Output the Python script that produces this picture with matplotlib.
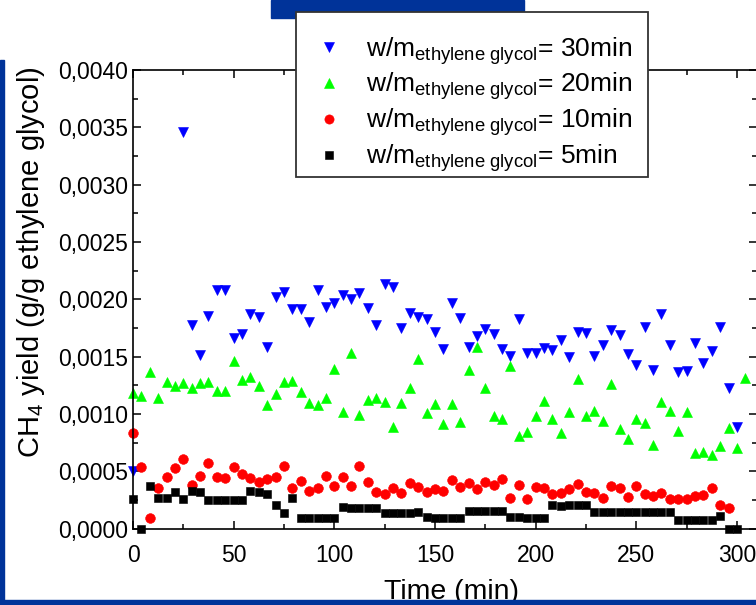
import numpy as np
import matplotlib
matplotlib.use('Agg')
import matplotlib.pyplot as plt
from matplotlib.patches import Rectangle
from matplotlib.ticker import MultipleLocator, FuncFormatter

plt.rcParams['font.family'] = ['Liberation Sans', 'DejaVu Sans']
plt.rcParams['mathtext.fontset'] = 'custom'
plt.rcParams['mathtext.rm'] = 'Liberation Sans'
plt.rcParams['mathtext.it'] = 'Liberation Sans:italic'
plt.rcParams['mathtext.bf'] = 'Liberation Sans:bold'

# ---------------- data (yield values in units of 1e-3 g/g) ----------------
time_min = [0, 4.2, 8.3, 12.5, 16.7, 20.8, 25.0, 29.2, 33.3, 37.5,
            41.7, 45.8, 50.0, 54.2, 58.3, 62.5, 66.7, 70.8, 75.0, 79.2,
            83.3, 87.5, 91.7, 95.8, 100.0, 104.2, 108.3, 112.5, 116.7, 120.8,
            125.0, 129.2, 133.3, 137.5, 141.7, 145.8, 150.0, 154.2, 158.3, 162.5,
            166.7, 170.8, 175.0, 179.2, 183.3, 187.5, 191.7, 195.8, 200.0, 204.2,
            208.3, 212.5, 216.7, 220.8, 225.0, 229.2, 233.3, 237.5, 241.7, 245.8,
            250.0, 254.2, 258.3, 262.5, 266.7, 270.8, 275.0, 279.2, 283.3, 287.5,
            291.7, 295.8, 300.0, 304.2]

nan = float('nan')
yield_30min = [0.503, nan, nan, nan, nan, nan, 3.456, 1.777, 1.515, 1.856,
               2.083, 2.083, 1.667, 1.699, 1.870, 1.850, 1.582, 2.024, 2.068, 1.914,
               1.914, 1.806, 2.083, 1.937, 1.966, 2.039, 2.001, 2.053, 1.928, 1.777,
               2.135, 2.106, 1.748, 1.885, 1.850, 1.830, 1.719, 1.571, 1.966, 1.841,
               1.588, 1.684, 1.745, 1.699, 1.565, 1.507, 1.830, 1.530, 1.530, 1.574,
               1.559, 1.646, 1.501, 1.719, 1.710, 1.507, 1.603, 1.734, 1.687, 1.521,
               1.428, 1.757, 1.385, 1.873, 1.603, 1.370, 1.379, 1.623, 1.443, 1.550,
               1.757, 1.229, 0.890]

yield_20min = [1.181, 1.160, 1.370, 1.143, 1.283, 1.248, 1.274, 1.227, 1.268, 1.280,
               1.198, 1.198, 1.460, 1.294, 1.320, 1.245, 1.076, 1.172, 1.280, 1.289,
               1.193, 1.094, 1.076, 1.137, 1.390, 1.015, 1.536, 0.995, 1.123, 1.137,
               1.105, 0.890, 1.094, 1.225, 1.478, 1.012, 1.084, 0.912, 1.085, 0.934,
               1.385, 1.588, 1.225, 0.986, 0.954, 1.419, 0.809, 0.841, 0.986, 1.114,
               0.957, 0.832, 1.021, 1.303, 0.983, 1.024, 0.937, 1.259, 0.867, 0.786,
               0.954, 0.919, 0.730, 1.108, 1.030, 0.855, 1.018, 0.663, 0.672, 0.643,
               0.724, 0.878, 0.701, 1.310]

yield_10min = [0.832, 0.535, 0.096, 0.352, 0.448, 0.527, 0.611, 0.381, 0.463, 0.576,
               0.448, 0.440, 0.535, 0.477, 0.445, 0.404, 0.431, 0.448, 0.547, 0.352,
               0.419, 0.332, 0.352, 0.460, 0.373, 0.454, 0.373, 0.547, 0.404, 0.317,
               0.300, 0.352, 0.314, 0.401, 0.361, 0.317, 0.346, 0.332, 0.425, 0.367,
               0.396, 0.346, 0.404, 0.381, 0.431, 0.271, 0.378, 0.256, 0.367, 0.352,
               0.303, 0.309, 0.349, 0.390, 0.323, 0.309, 0.271, 0.370, 0.352, 0.273,
               0.370, 0.303, 0.288, 0.309, 0.256, 0.256, 0.262, 0.285, 0.294, 0.352,
               0.210, 0.178]

yield_5min = [0.262, 0.000, 0.375, 0.265, 0.270, 0.317, 0.256, 0.329, 0.323, 0.250,
              0.250, 0.250, 0.250, 0.250, 0.332, 0.317, 0.300, 0.204, 0.134, 0.268,
              0.093, 0.093, 0.093, 0.093, 0.093, 0.190, 0.183, 0.183, 0.183, 0.183,
              0.134, 0.134, 0.134, 0.134, 0.142, 0.099, 0.097, 0.095, 0.095, 0.095,
              0.153, 0.153, 0.153, 0.153, 0.153, 0.099, 0.099, 0.095, 0.095, 0.095,
              0.207, 0.202, 0.207, 0.207, 0.207, 0.149, 0.149, 0.149, 0.149, 0.142,
              0.142, 0.142, 0.142, 0.142, 0.142, 0.076, 0.076, 0.076, 0.076, 0.076,
              0.111, 0.000, 0.000]

series = [
    ('30min', yield_30min, 'v', '#0000ff'),
    ('20min', yield_20min, '^', '#00ff00'),
    ('10min', yield_10min, 'o', '#ff0000'),
    ('5min', yield_5min, 's', '#000000'),
]
marker_sizes = {'v': 7.2, '^': 7.2, 'o': 7.0, 's': 6.4}

# ---------------- figure ----------------
W, H = 756, 605
fig = plt.figure(figsize=(W / 100, H / 100), dpi=100)
x0, x1 = 133, 757.1
y0, y1 = 528.7, 70.0
ax = fig.add_axes([x0 / W, 1 - y0 / H, (x1 - x0) / W, (y0 - y1) / H])

for label, vals, mk, col in series:
    v = np.array(vals, dtype=float) * 1e-3
    t = np.array(time_min[:len(vals)])
    ax.plot(t, v, linestyle='none', marker=mk, ms=marker_sizes[mk],
            color=col, mec=col, mew=0.4, clip_on=False,
            label=r'w/m$_{\mathrm{ethylene\ glycol}}$= ' + label)

ax.set_xlim(0, 310)
ax.set_ylim(0, 0.004)
ax.xaxis.set_major_locator(MultipleLocator(50))
ax.xaxis.set_minor_locator(MultipleLocator(25))
ax.yaxis.set_major_locator(MultipleLocator(0.0005))
ax.yaxis.set_minor_locator(MultipleLocator(0.00025))
ax.yaxis.set_major_formatter(FuncFormatter(lambda v, p: f'{v:.4f}'.replace('.', ',')))
ax.xaxis.set_major_formatter(FuncFormatter(lambda v, p: f'{v:.0f}'))

for s in ax.spines.values():
    s.set_linewidth(1.2)
ax.tick_params(which='both', direction='in', top=True, right=True, width=1.1,
               labelsize=16.5, colors='black')
ax.tick_params(which='major', length=5.8)
ax.tick_params(which='minor', length=3.6)
ax.tick_params(axis='x', which='major', pad=11.0)
ax.tick_params(axis='y', which='major', pad=3.6)

ax.set_xlabel('Time (min)', fontsize=20.5)
ax.xaxis.set_label_coords((451 - x0) / (x1 - x0), -(579 - y0) / (y0 - y1))
ax.set_ylabel(r'CH$_{\mathrm{4}}$ yield (g/g ethylene glycol)', fontsize=21)
ax.yaxis.set_label_coords(-(x0 - 47) / (x1 - x0), (y0 - 262.5) / (y0 - y1))

# legend frame (drawn separately) and legend entries
frame = Rectangle((296 / W, 1 - 177 / H), (648 - 296) / W, (177 - 12) / H,
                  transform=fig.transFigure, facecolor='white',
                  edgecolor='#333333', linewidth=1.3, zorder=9)
fig.patches.append(frame)
leg = fig.legend(loc='upper left', bbox_to_anchor=(296 / W, 1 - 19 / H),
                 bbox_transform=fig.transFigure, borderaxespad=0,
                 fontsize=19, frameon=False, borderpad=0.6, labelspacing=0.16,
                 handlelength=1.3, handletextpad=0.75, markerscale=0.95)
leg.set_zorder(10)

# blue frame decorations
blue = '#003399'
fig.patches.append(Rectangle((271 / W, 1 - 18 / H), (524 - 271) / W, 18 / H,
                             transform=fig.transFigure, color=blue, zorder=3))
fig.patches.append(Rectangle((0, 0), 3.5 / W, (605 - 60) / H,
                             transform=fig.transFigure, color=blue, zorder=3))
fig.patches.append(Rectangle((0, 0), 1, 5.5 / H,
                             transform=fig.transFigure, color=blue, zorder=3))

fig.savefig('out.png', dpi=100)
